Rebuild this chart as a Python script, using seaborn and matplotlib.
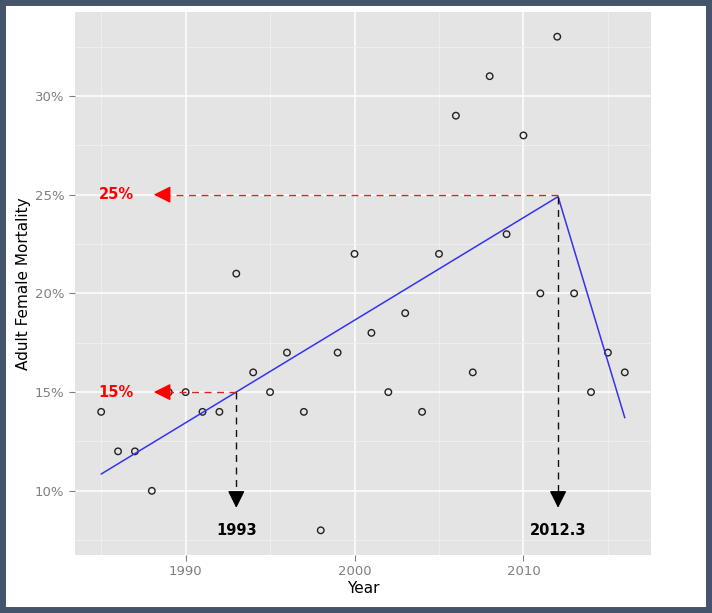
import numpy as np
import pandas as pd
import matplotlib
matplotlib.use('Agg')
import matplotlib.pyplot as plt
import seaborn as sns
from matplotlib.patches import Rectangle

# observed adult female mortality (%) per year
years = list(range(1985, 2017))
mortality = [14, 12, 12, 10, 15, 15, 14, 14, 21, 16, 15, 17, 14, 8, 17, 22,
             18, 15, 19, 14, 22, 29, 16, 31, 23, 28, 20, 33, 20, 15, 17, 16]

# piecewise (segmented) fit, breakpoint as drawn in the picture
seg_years = [1985, 2012.05, 2016]
seg_vals = [10.85, 24.9, 13.7]

# annotations
break_years = [1993, 2012.05]
break_vals = [15, 24.9]
break_labels = ['1993', '2012.3']
level_vals = [15, 25]
level_labels = ['15%', '25%']

y_ticks = [10, 15, 20, 25, 30]
y_labels = ['10%', '15%', '20%', '25%', '30%']
x_ticks = [1990, 2000, 2010]

df = pd.DataFrame({'Year': years, 'Mortality': mortality})
fit = pd.DataFrame({'Year': seg_years, 'Mortality': seg_vals})

sns.set_theme(style='darkgrid', rc={'axes.facecolor': '#E4E4E4',
                                    'grid.color': 'white'})
plt.rcParams['font.family'] = ['DejaVu Sans']

fig = plt.figure(figsize=(7.12, 6.13), dpi=100)
fig.patch.set_facecolor('white')
# dark frame around the picture
fig.patches.append(Rectangle((0, 0), 1, 1, transform=fig.transFigure,
                             fill=False, edgecolor='#44546A', linewidth=8.6))
ax = fig.add_axes([0.1053, 0.0946, 0.8090, 0.8858])

sns.scatterplot(data=df, x='Year', y='Mortality', ax=ax, marker='o', s=22,
                facecolor='none', edgecolor='#222222', linewidth=1.0, zorder=3)
sns.lineplot(data=fit, x='Year', y='Mortality', ax=ax, color='#3333EE',
             linewidth=1.1, zorder=4)

tip_x = 1987.95
head_x = 1989.05
for v, lab, start in zip(level_vals, level_labels, break_years):
    ax.plot([start, head_x], [v, v], color='#DD2222', linestyle=(0, (5, 4)),
            linewidth=1.0, zorder=4)
    ax.annotate('', xy=(tip_x, v), xytext=(head_x + 0.05, v),
                arrowprops=dict(arrowstyle='-|>', color='red', lw=1,
                                mutation_scale=26), zorder=5)
    ax.text(1985.9, v, lab, color='red', fontsize=10.5, fontweight='bold',
            ha='center', va='center', zorder=5)

tip_y = 9.0
head_y = 9.9
for x, v, lab in zip(break_years, break_vals, break_labels):
    ax.plot([x, x], [v, head_y], color='#111111', linestyle=(0, (5, 4)),
            linewidth=1.0, zorder=4)
    ax.annotate('', xy=(x, tip_y), xytext=(x, head_y + 0.05),
                arrowprops=dict(arrowstyle='-|>', color='black', lw=1,
                                mutation_scale=26), zorder=5)
    ax.text(x, 8.0, lab, color='black', fontsize=10.5, fontweight='bold',
            ha='center', va='center', zorder=5)

ax.set_xlim(1983.45, 2017.55)
ax.set_ylim(6.75, 34.25)
ax.set_xticks(x_ticks)
ax.set_xticklabels([str(t) for t in x_ticks])
ax.set_yticks(y_ticks)
ax.set_yticklabels(y_labels)
ax.set_xticks([1985, 1995, 2005, 2015], minor=True)
ax.set_yticks([7.5, 12.5, 17.5, 22.5, 27.5, 32.5], minor=True)
ax.grid(which='major', color='white', linewidth=1.1)
ax.grid(which='minor', color='#F0F0F0', linewidth=0.6)
ax.tick_params(axis='both', which='major', colors='#7F7F7F', labelsize=9.5,
               length=4, width=0.8, direction='out', bottom=True, left=True)
ax.tick_params(which='minor', length=0)
for sp in ax.spines.values():
    sp.set_visible(False)
ax.set_xlabel('Year', fontsize=11, color='black', labelpad=2)
ax.set_ylabel('Adult Female Mortality', fontsize=11, color='black', labelpad=3)

fig.savefig('out.png', dpi=100)
